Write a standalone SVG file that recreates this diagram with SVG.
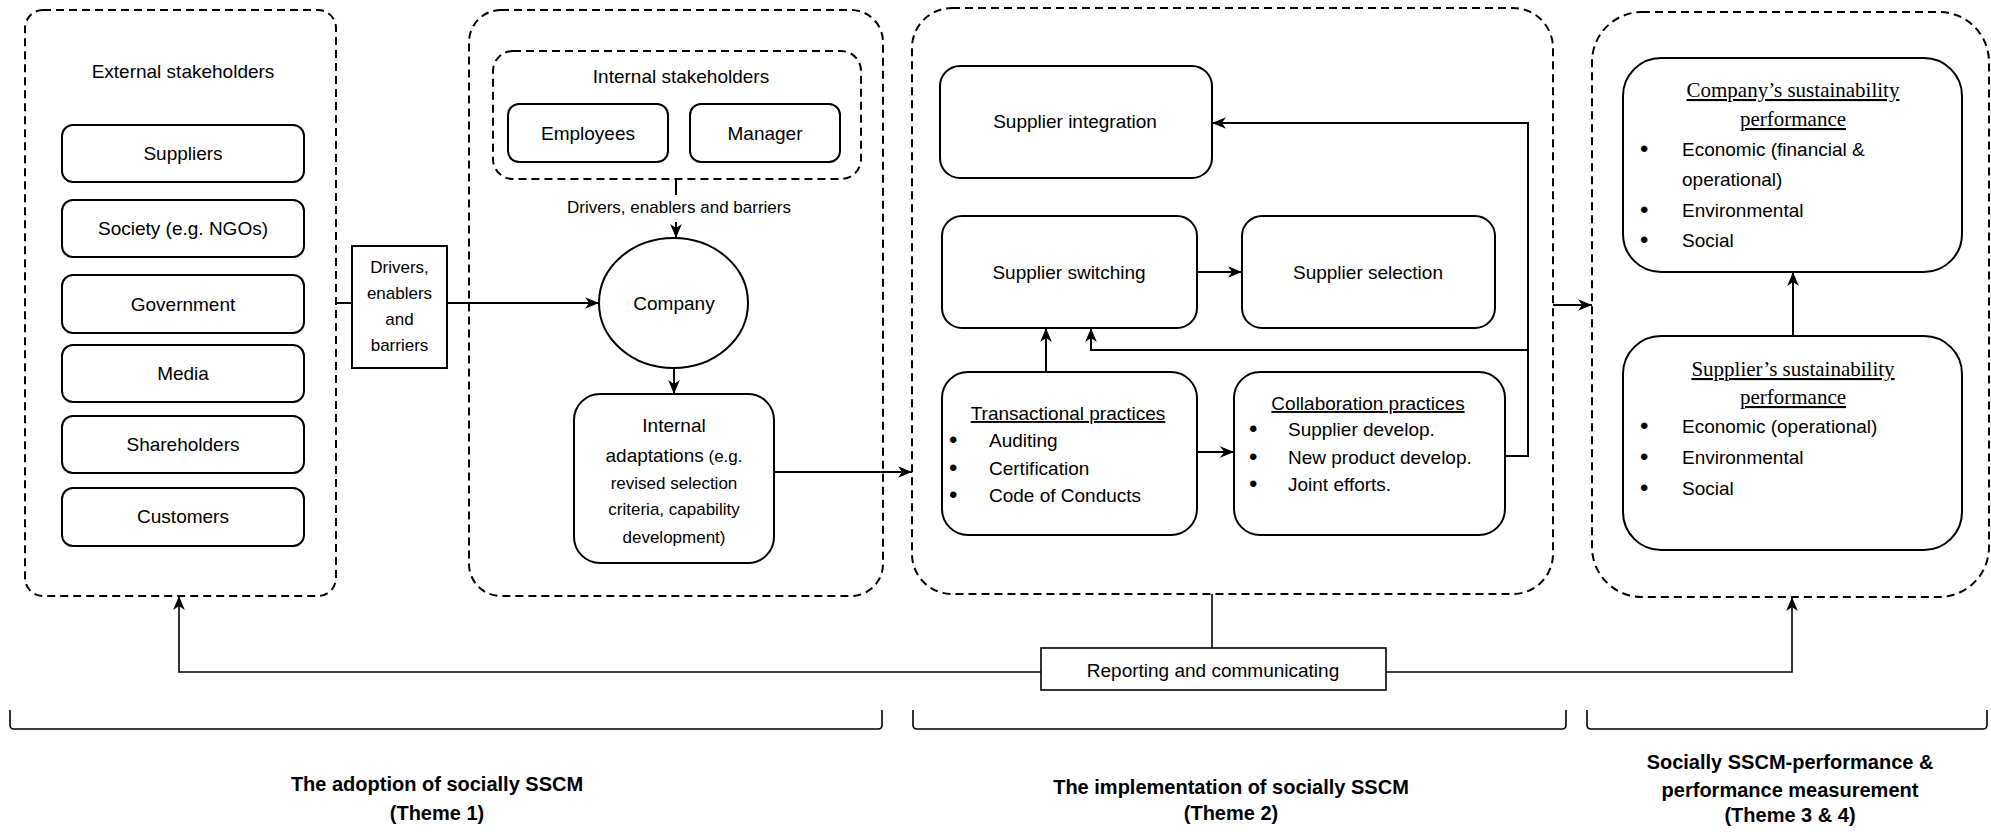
<svg xmlns="http://www.w3.org/2000/svg" width="1991" height="832" viewBox="0 0 1991 832">
  <style>
    .dash { fill: none; stroke: #000; stroke-width: 2; stroke-dasharray: 8 5; }
    .box { fill: #fff; stroke: #000; stroke-width: 2; }
    .conn { fill: none; stroke: #000; stroke-width: 2; }
    .thin { fill: none; stroke: #000; stroke-width: 1.6; }
    .t { font-family: "Liberation Sans", Arial, sans-serif; font-size: 19px; fill: #000; }
    .s { font-family: "Liberation Sans", Arial, sans-serif; font-size: 17px; fill: #000; }
    .bul { font-family: "Liberation Sans", Arial, sans-serif; font-size: 24px; fill: #000; }
    .c { text-anchor: middle; }
    .u { text-decoration: underline; }
    .serif { font-family: "Liberation Serif", "Times New Roman", serif; font-size: 21px; fill: #000; text-anchor: middle; text-decoration: underline; }
    .b { font-family: "Liberation Sans", Arial, sans-serif; font-size: 20px; font-weight: bold; fill: #000; text-anchor: middle; }
  </style>
  <defs>
    <marker id="arr" viewBox="0 0 12 10" refX="12" refY="5" markerWidth="14" markerHeight="12" orient="auto" markerUnits="userSpaceOnUse">
      <path d="M0,0 L12,5 L0,10 L3.5,5 z" fill="#000"/>
    </marker>
  </defs>
  <rect width="1991" height="832" fill="#fff"/>

  <!-- Theme 1: external stakeholders -->
  <g id="external-stakeholders">
    <rect class="dash" x="25" y="10" width="311" height="586" rx="18"/>
    <text class="t c" x="183" y="78">External stakeholders</text>
  </g>
  <g id="suppliers"><rect class="box" x="62" y="125" width="242" height="57" rx="11"/><text class="t c" x="183" y="160">Suppliers</text></g>
  <g id="society"><rect class="box" x="62" y="200" width="242" height="57" rx="11"/><text class="t c" x="183" y="235">Society (e.g. NGOs)</text></g>
  <g id="government"><rect class="box" x="62" y="275" width="242" height="58" rx="11"/><text class="t c" x="183" y="311">Government</text></g>
  <g id="media"><rect class="box" x="62" y="345" width="242" height="57" rx="11"/><text class="t c" x="183" y="380">Media</text></g>
  <g id="shareholders"><rect class="box" x="62" y="416" width="242" height="57" rx="11"/><text class="t c" x="183" y="451">Shareholders</text></g>
  <g id="customers"><rect class="box" x="62" y="488" width="242" height="58" rx="11"/><text class="t c" x="183" y="523">Customers</text></g>

  <g id="drivers">
    <rect class="box" x="352" y="246" width="95" height="122"/>
    <text class="s c" x="399.5" y="273">Drivers,</text>
    <text class="s c" x="399.5" y="299">enablers</text>
    <text class="s c" x="399.5" y="325">and</text>
    <text class="s c" x="399.5" y="351">barriers</text>
  </g>

  <!-- Theme 1: company -->
  <g id="internal-group">
    <rect class="dash" x="469" y="10" width="414" height="586" rx="32"/>
  </g>
  <g id="internal-stakeholders">
    <rect class="dash" x="493" y="51" width="368" height="128" rx="20"/>
    <text class="t c" x="681" y="83">Internal stakeholders</text>
  </g>
  <g id="employees"><rect class="box" x="508" y="104" width="160" height="58" rx="11"/><text class="t c" x="588" y="140">Employees</text></g>
  <g id="manager"><rect class="box" x="690" y="104" width="150" height="58" rx="11"/><text class="t c" x="765" y="140">Manager</text></g>
  <g id="company">
    <ellipse class="box" cx="673.5" cy="303" rx="74.5" ry="65"/>
    <text class="t c" x="674" y="310">Company</text>
  </g>
  <g id="internal-adaptations">
    <rect class="box" x="574" y="394" width="200" height="169" rx="26"/>
    <text class="t c" x="674" y="432">Internal</text>
    <text class="t c" x="674" y="462">adaptations<tspan font-size="17"> (e.g.</tspan></text>
    <text class="s c" x="674" y="489">revised selection</text>
    <text class="s c" x="674" y="515">criteria, capability</text>
    <text class="s c" x="674" y="543">development)</text>
  </g>

  <!-- Theme 2: implementation -->
  <g id="implementation">
    <rect class="dash" x="912" y="8" width="641" height="586" rx="40"/>
  </g>
  <g id="supplier-integration"><rect class="box" x="940" y="66" width="272" height="112" rx="20"/><text class="t c" x="1075" y="128">Supplier integration</text></g>
  <g id="supplier-switching"><rect class="box" x="942" y="216" width="255" height="112" rx="20"/><text class="t c" x="1069" y="279">Supplier switching</text></g>
  <g id="supplier-selection"><rect class="box" x="1242" y="216" width="253" height="112" rx="20"/><text class="t c" x="1368" y="279">Supplier selection</text></g>
  <g id="transactional">
    <rect class="box" x="942" y="372" width="255" height="163" rx="26"/>
    <text class="t c u" x="1068" y="420">Transactional practices</text>
    <text class="bul" x="949" y="448">•</text><text class="t" x="989" y="447">Auditing</text>
    <text class="bul" x="949" y="476">•</text><text class="t" x="989" y="475">Certification</text>
    <text class="bul" x="949" y="503">•</text><text class="t" x="989" y="502">Code of Conducts</text>
  </g>
  <g id="collaboration">
    <rect class="box" x="1234" y="372" width="271" height="163" rx="26"/>
    <text class="t c u" x="1368" y="410">Collaboration practices</text>
    <text class="bul" x="1249" y="437">•</text><text class="t" x="1288" y="436">Supplier develop.</text>
    <text class="bul" x="1249" y="465">•</text><text class="t" x="1288" y="464">New product develop.</text>
    <text class="bul" x="1249" y="492">•</text><text class="t" x="1288" y="491">Joint efforts.</text>
  </g>

  <!-- Themes 3 & 4: performance -->
  <g id="performance">
    <rect class="dash" x="1592" y="12" width="397" height="585" rx="50"/>
  </g>
  <g id="company-performance">
    <rect class="box" x="1623" y="58" width="339" height="214" rx="38"/>
    <text class="serif" x="1793" y="97">Company’s sustainability</text>
    <text class="serif" x="1793" y="126">performance</text>
    <text class="bul" x="1640" y="157">•</text><text class="t" x="1682" y="156">Economic (financial &amp;</text>
    <text class="t" x="1682" y="186">operational)</text>
    <text class="bul" x="1640" y="218">•</text><text class="t" x="1682" y="217">Environmental</text>
    <text class="bul" x="1640" y="248">•</text><text class="t" x="1682" y="247">Social</text>
  </g>
  <g id="supplier-performance">
    <rect class="box" x="1623" y="336" width="339" height="214" rx="38"/>
    <text class="serif" x="1793" y="376">Supplier’s sustainability</text>
    <text class="serif" x="1793" y="404">performance</text>
    <text class="bul" x="1640" y="434">•</text><text class="t" x="1682" y="433">Economic (operational)</text>
    <text class="bul" x="1640" y="465">•</text><text class="t" x="1682" y="464">Environmental</text>
    <text class="bul" x="1640" y="496">•</text><text class="t" x="1682" y="495">Social</text>
  </g>

  <g id="reporting">
    <rect fill="#fff" stroke="#000" stroke-width="1.6" x="1041" y="648" width="345" height="42"/>
    <text class="t c" x="1213" y="677">Reporting and communicating</text>
  </g>

  <!-- Connectors -->
  <g id="connectors">
    <path class="conn" d="M336,303 H352"/>
    <path class="conn" d="M447,303 H599" marker-end="url(#arr)"/>
    <path class="conn" d="M676,179 V195"/>
    <text class="s c" x="679" y="213">Drivers, enablers and barriers</text>
    <path class="conn" d="M676,222 V238" marker-end="url(#arr)"/>
    <path class="conn" d="M674,368 V394" marker-end="url(#arr)"/>
    <path class="conn" d="M774,472 H912" marker-end="url(#arr)"/>
    <path class="conn" d="M1197,272 H1242" marker-end="url(#arr)"/>
    <path class="conn" d="M1046,372 V328" marker-end="url(#arr)"/>
    <path class="conn" d="M1197,452 H1234" marker-end="url(#arr)"/>
    <path class="conn" d="M1505,456 H1528 V123 H1212" marker-end="url(#arr)"/>
    <path class="conn" d="M1528,350 H1091 V328" marker-end="url(#arr)"/>
    <path class="conn" d="M1553,305 H1592" marker-end="url(#arr)"/>
    <path class="conn" d="M1793,336 V272" marker-end="url(#arr)"/>
    <path class="thin" d="M1212,594 V648"/>
    <path class="thin" d="M1041,672 H179 V596" marker-end="url(#arr)"/>
    <path class="thin" d="M1386,672 H1792 V597" marker-end="url(#arr)"/>
  </g>

  <!-- Theme brackets and captions -->
  <g id="theme-1">
    <path class="thin" d="M10,710 V725 Q10,729 14,729 H878 Q882,729 882,725 V710"/>
    <text class="b" x="437" y="791">The adoption of socially SSCM</text>
    <text class="b" x="437" y="820">(Theme 1)</text>
  </g>
  <g id="theme-2">
    <path class="thin" d="M913,710 V725 Q913,729 917,729 H1562 Q1566,729 1566,725 V710"/>
    <text class="b" x="1231" y="794">The implementation of socially SSCM</text>
    <text class="b" x="1231" y="820">(Theme 2)</text>
  </g>
  <g id="theme-3-4">
    <path class="thin" d="M1587,710 V725 Q1587,729 1591,729 H1983 Q1987,729 1987,725 V710"/>
    <text class="b" x="1790" y="769">Socially SSCM-performance &amp;</text>
    <text class="b" x="1790" y="797">performance measurement</text>
    <text class="b" x="1790" y="822">(Theme 3 &amp; 4)</text>
  </g>
</svg>
